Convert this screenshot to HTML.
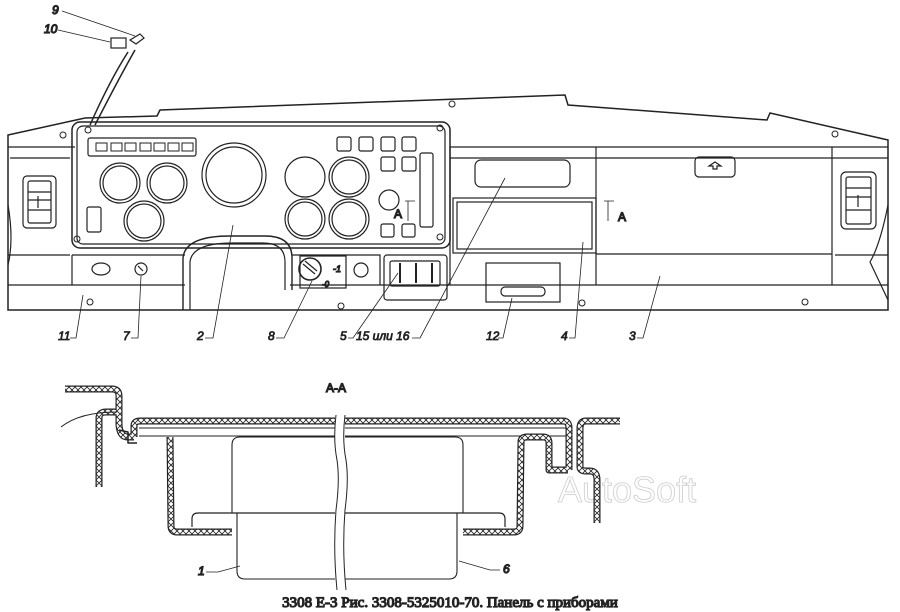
<!DOCTYPE html>
<html><head><meta charset="utf-8"><style>
body{margin:0;background:#fff}
svg{display:block}
text{font-family:"Liberation Sans",sans-serif;font-style:italic;font-size:12px;fill:#222}
</style></head><body>
<svg width="900" height="612" viewBox="0 0 900 612" fill="none" stroke="#222" stroke-width="1.2">
<defs>
<pattern id="h" width="6" height="6" patternUnits="userSpaceOnUse">
<rect width="6" height="6" fill="#fff" stroke="none"/>
<path d="M0 0 L6 6 M6 0 L0 6" stroke="#222" stroke-width="0.8"/>
</pattern>
</defs>
<!-- top label 9/10 -->
<text x="52" y="14">9</text><text x="44" y="33">10</text>
<path d="M62 11 L135 36 M58 30 L110 42" stroke-width="0.8"/>
<rect x="111" y="38" width="15" height="10"/><path d="M130 40 l10 -6 l4 4 l-8 6z"/>
<path d="M128 52 Q110 80 90 125 M135 50 Q118 80 95 125" stroke-width="1.5"/>
<!-- dashboard outline -->
<path d="M8 310 L8 135 L85 118 L157 116 L160 110 L565 95 L568 105 L767 120 L770 113 L888 140 L888 310 Z" stroke-width="1.5"/>
<path d="M8 147 L75 147 M450 147 L888 147"/>
<path d="M10 158 L70 158 M450 158 L888 158"/>
<path d="M8 285 L185 285 M290 285 L888 285"/>
<path d="M8 255 L70 255 M835 255 L888 255"/>
<path d="M8 205 Q14 240 8 265 M888 205 Q880 245 870 262 L888 300"/>
<!-- left vent -->
<rect x="23" y="176" width="33" height="52" rx="4"/><rect x="28" y="181" width="23" height="42" rx="2"/>
<path d="M28 192 h23 M28 200 h23 M28 210 h23 M38 196 v12"/>
<!-- right vent -->
<rect x="841" y="172" width="35" height="57" rx="5"/><rect x="846" y="177" width="25" height="47" rx="2"/>
<path d="M846 188 h25 M846 197 h25 M846 210 h25 M858 195 v12"/>
<!-- cluster frame -->
<rect x="72" y="122" width="378" height="126" rx="8" stroke-width="1.5"/>
<rect x="77" y="126" width="368" height="118" rx="6"/>
<rect x="88" y="138" width="108" height="18" rx="2"/>
<g stroke-width="1"><rect x="96" y="143" width="11" height="8"/><rect x="111" y="143" width="11" height="8"/><rect x="125" y="143" width="11" height="8"/><rect x="140" y="143" width="11" height="8"/><rect x="154" y="143" width="11" height="8"/><rect x="168" y="143" width="11" height="8"/><rect x="182" y="143" width="11" height="8"/></g>
<g>
<circle cx="120" cy="183" r="20"/><circle cx="120" cy="183" r="17"/>
<circle cx="167" cy="183" r="20"/><circle cx="167" cy="183" r="17"/>
<circle cx="144" cy="221" r="20"/><circle cx="144" cy="221" r="17"/>
<circle cx="234" cy="175" r="32"/><circle cx="234" cy="175" r="28"/>
<circle cx="305" cy="177" r="20"/>
<circle cx="349" cy="177" r="20"/><circle cx="349" cy="177" r="17"/>
<circle cx="305" cy="219" r="20"/><circle cx="305" cy="219" r="17"/>
<circle cx="349" cy="219" r="20"/><circle cx="349" cy="219" r="17"/>
<circle cx="389" cy="200" r="10"/>
</g>
<rect x="87" y="207" width="14" height="25" rx="2"/>
<g><rect x="337" y="137" width="14" height="14" rx="2"/><rect x="359" y="137" width="14" height="14" rx="2"/><rect x="381" y="137" width="14" height="14" rx="2"/><rect x="402" y="137" width="14" height="14" rx="2"/><rect x="381" y="157" width="14" height="14" rx="2"/><rect x="402" y="157" width="14" height="14" rx="2"/><rect x="381" y="224" width="13" height="13" rx="2"/><rect x="402" y="224" width="13" height="13" rx="2"/></g>
<rect x="420" y="153" width="13" height="74" rx="2"/>
<path d="M405 201 h10 M408 201 v20" stroke-width="0.8"/><text x="394" y="218" style="font-style:normal">A</text>
<!-- steering hump -->
<path d="M183 310 L183 258 Q185 236 230 236 L265 236 Q292 236 292 258 L292 290" stroke-width="1.4"/>
<path d="M190 310 L190 262 Q192 243 232 243 L263 243 Q285 243 285 262 L285 290"/>
<!-- lower left panel -->
<path d="M72 255 L185 255 M72 255 L72 285"/>
<ellipse cx="101" cy="269" rx="9" ry="6"/><circle cx="141" cy="269" r="6"/><path d="M138 266 l5 5"/>
<!-- switch 8 panel -->
<path d="M292 255 L380 255 L380 285"/>
<rect x="300" y="256" width="46" height="32"/>
<circle cx="310" cy="269" r="11" stroke-width="1.6"/><path d="M303 264 l12 10 M305 261 l12 10"/>
<text x="333" y="272" style="font-size:9px">-1</text><text x="322" y="287" style="font-size:8px">-0</text>
<circle cx="361" cy="270" r="7"/>
<!-- panel 5 -->
<rect x="384" y="255" width="63" height="45" rx="3"/><rect x="390" y="261" width="50" height="25" rx="2"/>
<path d="M400 263 v20 M416 263 v20 M432 263 v20" stroke-width="2"/>
<!-- right section -->
<path d="M450 147 L450 285 M596 147 L596 285 M832 147 L832 285"/>
<rect x="475" y="160" width="95" height="27" rx="6"/>
<rect x="453" y="198" width="143" height="55"/><rect x="457" y="202" width="135" height="47"/>
<path d="M604 201 h10 M608 201 v20" stroke-width="0.8"/><text x="618" y="221" style="font-style:normal">A</text>
<path d="M596 254 L832 254"/>
<rect x="695" y="157" width="40" height="20" rx="4"/><path d="M709 166 l6 -4 l6 4 h-4 v3 h-4 v-3z"/>
<rect x="486" y="263" width="74" height="39"/><rect x="501" y="287" width="44" height="9" rx="4"/>
<!-- screws -->
<g stroke-width="1"><circle cx="63" cy="135" r="3"/><circle cx="88" cy="130" r="3"/><circle cx="77" cy="239" r="3"/><circle cx="440" cy="128" r="3"/><circle cx="440" cy="237" r="3"/><circle cx="90" cy="302" r="3"/><circle cx="341" cy="306" r="3"/><circle cx="582" cy="303" r="3"/><circle cx="805" cy="302" r="3"/><circle cx="835" cy="134" r="3"/><circle cx="452" cy="104" r="3"/></g>
<!-- labels -->
<g stroke-width="0.8">
<text x="58" y="340">11</text><path d="M70 338 h6 L83 295"/>
<text x="123" y="340">7</text><path d="M131 338 h7 L141 276"/>
<text x="197" y="340">2</text><path d="M205 338 h8 L233 225"/>
<text x="268" y="340">8</text><path d="M276 338 h8 L312 281"/>
<text x="340" y="340">5</text><path d="M348 338 h5 L398 273"/>
<text x="356" y="340">15 или 16</text><path d="M412 338 h8 L505 178"/>
<text x="486" y="340">12</text><path d="M498 338 h5 L512 298"/>
<text x="561" y="340">4</text><path d="M569 338 h6 L583 242"/>
<text x="629" y="340">3</text><path d="M637 338 h6 L660 276"/>
</g>
<!-- section A-A -->
<text x="326" y="392" style="font-style:normal">A-A</text>
<text x="558" y="502" style="font-style:normal;font-size:36px;fill:#fff;stroke:#ccc;stroke-width:0.8">AutoSoft</text>
<g stroke-linejoin="round">
<!-- thin lines -->
<path d="M139 428 L566 428 M139 436 L566 436" stroke-width="1"/>
<!-- boxes -->
<path d="M232 513 L232 445 Q232 437 240 437 L455 437 Q463 437 463 445 L463 513" stroke-width="1.1"/>
<path d="M192 527 L192 519 Q192 513 198 513 L499 513 Q505 513 505 519 L505 527"/>
<path d="M237 513 L237 571 Q237 579 245 579 L449 579 Q457 579 457 571 L457 513" stroke-width="1.1"/>
<!-- hatched bands -->
<g id="bands">
<path d="M65 389 L112 389 Q119 389 119 396 L119 425 Q120 437 128 437 L134 437"/>
<path d="M99 487 L99 418 Q99 412 106 412 L117 412"/>
<path d="M134 437 L134 426 Q134 421 140 421 L563 421 Q569 421 569 428 L569 470"/>
<path d="M170 437 L171 526 Q171 532 177 532 L232 532"/>
<path d="M463 532 L514 532 Q520 532 520 526 L521 442 Q521 437 527 437 L543 437 Q549 437 549 443 L549 470 L568 470"/>
<path d="M620 421 L586 421 Q580 421 580 428 L580 467 Q580 471 586 471 L590 471 Q597 471 597 480 L597 523"/>
</g>
<use href="#bands" stroke="#222" stroke-width="7"/>
<use href="#bands" stroke="url(#h)" stroke-width="4.6"/>
<!-- small lip left -->
<path d="M119 430 L128 432 L128 443 L137 443" stroke-width="1.5"/>
<path d="M61 427 Q80 412 117 412" stroke-width="1.1"/>
<!-- break -->
<path d="M335 410 L345 410 L345 592 L335 592 Z" fill="#fff" stroke="none"/>
<path d="M336 415 Q333 440 337 460 Q340 480 336 510 Q333 550 337 590" stroke-width="1"/>
<path d="M345 415 Q342 440 346 460 Q349 480 345 510 Q342 550 346 590" stroke-width="1"/>
</g>
<text x="198" y="575">1</text><path d="M206 572 h12 L240 566" stroke-width="0.8"/>
<text x="503" y="573">6</text><path d="M500 570 h-10 L459 561" stroke-width="0.8"/>
<text x="450" y="607" text-anchor="middle" style="font-family:'Liberation Serif',serif;font-style:normal;font-size:15px">3308 Е-3 Рис. 3308-5325010-70. Панель с приборами</text>
</svg>
</body></html>
